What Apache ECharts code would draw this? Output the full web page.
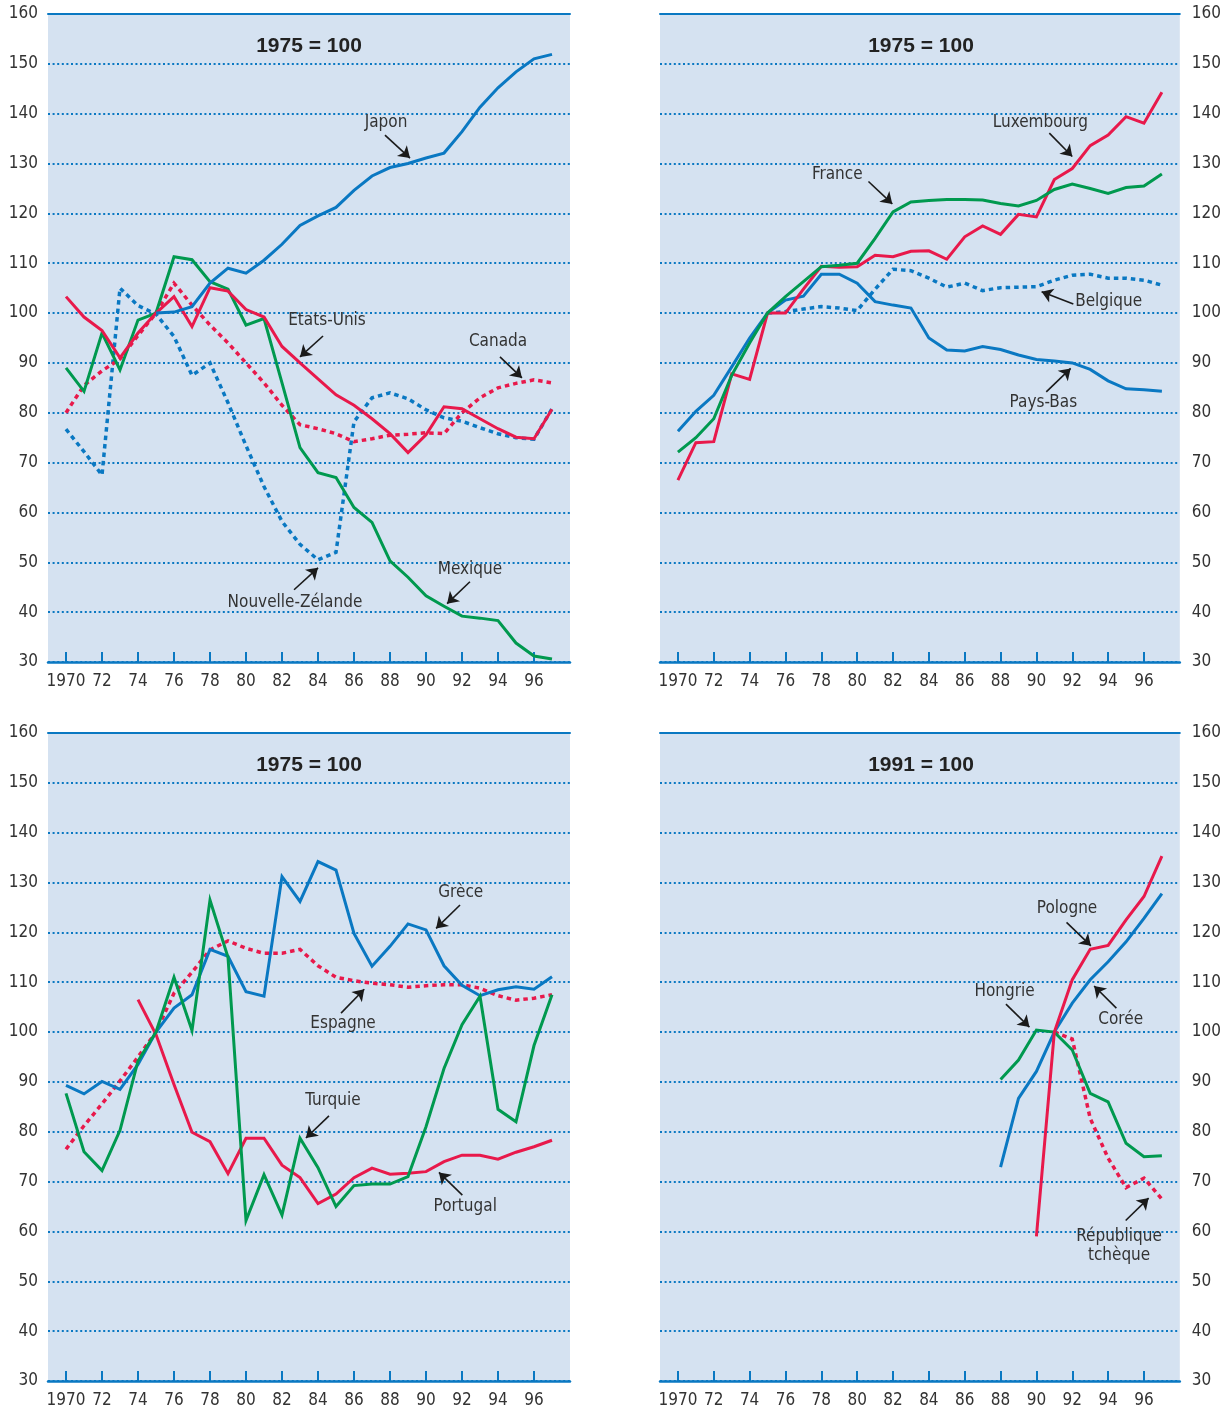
<!DOCTYPE html>
<html><head><meta charset="utf-8">
<script src="https://cdn.jsdelivr.net/npm/echarts@6/dist/echarts.min.js"></script>
<style>html,body{margin:0;padding:0;background:#fff}#c{width:1224px;height:1409px}</style>
</head><body><div id="c"></div><script>
// ---------- DATA ----------
const years = [1970,1971,1972,1973,1974,1975,1976,1977,1978,1979,1980,1981,1982,1983,1984,1985,1986,1987,1988,1989,1990,1991,1992,1993,1994,1995,1996,1997];
const yTicks = [30,40,50,60,70,80,90,100,110,120,130,140,150,160];
const xTicks = [1970,1972,1974,1976,1978,1980,1982,1984,1986,1988,1990,1992,1994,1996];
const panelTitles = ['1975 = 100','1975 = 100','1975 = 100','1991 = 100'];
const _ = null;
// Panel 1
const japon     = [_,_,_,_,_,100,100.2,101.3,106,109,108,110.6,113.8,117.6,119.5,121.2,124.6,127.5,129.2,130,131.1,132.1,136.4,141.3,145.2,148.4,151,151.9];
const etatsUnis = [103.3,99.2,96.5,91,96,100,103.3,97.3,105.1,104.4,100.7,99.2,93.3,90,86.8,83.6,81.5,78.8,75.8,72,75.6,81.2,80.8,78.8,76.8,75.1,74.8,80.7];
const canada    = [80,85.5,88.4,90.8,95.5,100,106,101.6,97.6,94,90,86,81.5,77.6,76.8,75.8,74.2,74.8,75.5,75.7,76,75.8,80,83,85,85.9,86.6,86];
const mexique   = [89,84.3,96,88.6,98.6,100,111.3,110.7,106.3,104.8,97.6,98.9,86,73,68,67,61,58,50.3,47,43.3,41.2,39.2,38.8,38.3,33.8,31.2,30.6];
const nouvelleZelande = [76.7,72.2,67.5,105,101.5,99.8,95.3,87.5,90,82,73.4,65.2,58.2,53.6,50.5,52,78.2,83,84,82.8,80.6,79,78.3,77,75.8,75,74.7,80.8];
// Panel 2
const luxembourg = [66.5,74,74.2,87.8,86.7,100,100,104.8,109.4,109.2,109.3,111.6,111.3,112.4,112.5,110.8,115.3,117.5,115.8,119.8,119.3,126.8,129,133.6,135.7,139.4,138.1,144.3];
const france     = [72.1,75,78.8,87.5,94,100,103.3,106.3,109.3,109.6,110,115,120.3,122.3,122.6,122.8,122.8,122.7,122,121.5,122.6,124.8,125.9,125,124,125.2,125.5,127.9];
const paysBas    = [76.3,80.3,83.5,89.2,95,100,102.6,103.4,107.8,107.8,106,102.3,101.6,101,95,92.6,92.4,93.3,92.7,91.6,90.7,90.4,90,88.7,86.4,84.8,84.6,84.3];
const belgique   = [_,_,_,_,_,100,100.3,100.8,101.3,101,100.5,104.8,108.8,108.5,107,105.2,106,104.5,105.1,105.2,105.3,106.6,107.6,107.8,107,107,106.6,105.6];
// Panel 3
const grece    = [89.3,87.6,90.1,88.5,93.5,100,104.8,107.5,116.6,115.2,108.1,107.2,131.2,126.2,134.2,132.5,119.8,113.2,117.2,121.7,120.5,113.3,109.4,107.3,108.5,109.1,108.6,111.1];
const espagne  = [76.5,81.2,85.6,90.2,95,100,107.8,112,116.5,118.3,116.8,115.8,115.8,116.6,113.3,111,110.3,109.8,109.5,109,109.3,109.5,109.5,108.8,107.3,106.4,106.8,107.5];
const turquie  = [87.7,76,72.2,80.3,94.2,100,111,100.3,126.5,115,62.2,71.4,63.3,78.7,72.8,65,69.2,69.5,69.5,71,81,92.7,101.5,107.2,84.5,82,97.3,107.5];
const portugal = [_,_,_,_,106.5,99.5,89.5,79.9,78,71.6,78.7,78.7,73.3,70.8,65.6,67.5,70.8,72.7,71.5,71.7,72,74,75.3,75.3,74.5,75.9,77,78.3];
// Panel 4
const pologne  = [_,_,_,_,_,_,_,_,_,_,_,_,_,_,_,_,_,_,_,_,59,100,110.5,116.6,117.4,122.5,127.2,135.3];
const coree    = [_,_,_,_,_,_,_,_,_,_,_,_,_,_,_,_,_,_,72.9,86.7,92.1,100,105.8,110.5,114.1,118.1,122.8,127.8];
const hongrie  = [_,_,_,_,_,_,_,_,_,_,_,_,_,_,_,_,_,_,90.5,94.4,100.4,100,96.4,87.7,86,77.7,75,75.2];
const tcheque  = [_,_,_,_,_,_,_,_,_,_,_,_,_,_,_,_,_,_,_,_,_,100,98.6,82.7,74.7,68.8,70.7,66.5];

// ---------- ANNOTATIONS (label anchor + arrow, in data units) ----------
const annotations = [
  [ {text:'Japon', at:[1987.78,138.3], from:[1987.72,135.7], to:[1989.11,131.1]},
    {text:'Etats-Unis', at:[1984.5,98.4], from:[1984.28,95.4], to:[1983.0,91.2]},
    {text:'Canada', at:[1994.0,94.2], from:[1994.11,91.2], to:[1995.33,87.0]},
    {text:'Nouvelle-Zélande', at:[1982.72,42.0], from:[1982.67,44.5], to:[1984.0,48.9]},
    {text:'Mexique', at:[1992.44,48.5], from:[1992.44,46.1], to:[1991.17,41.7]} ],
  [ {text:'Luxembourg', at:[1990.22,138.3], from:[1990.72,136.1], to:[1992.0,131.4]},
    {text:'France', at:[1978.89,127.7], from:[1980.63,126.4], to:[1981.96,121.9]},
    {text:'Belgique', at:[1994.03,102.3], from:[1992.06,101.8], to:[1990.29,104.3]},
    {text:'Pays-Bas', at:[1990.39,82.1], from:[1990.55,84.2], to:[1991.91,88.9]} ],
  [ {text:'Grèce', at:[1991.93,128.0], from:[1991.89,125.5], to:[1990.56,120.8]},
    {text:'Espagne', at:[1985.39,101.8], from:[1985.28,103.8], to:[1986.57,108.6]},
    {text:'Turquie', at:[1984.83,86.2], from:[1984.61,83.2], to:[1983.33,78.75]},
    {text:'Portugal', at:[1992.18,65.0], from:[1992.02,67.3], to:[1990.72,71.85]} ],
  [ {text:'Pologne', at:[1991.71,124.8], from:[1991.68,122.0], to:[1993.04,117.3]},
    {text:'Hongrie', at:[1988.22,108.1], from:[1988.3,105.6], to:[1989.61,101.0]},
    {text:'Corée', at:[1994.7,102.6], from:[1994.46,104.8], to:[1993.22,109.25]},
    {text:'République\ntchèque', at:[1994.61,57.0], from:[1994.98,62.2], to:[1996.26,66.7]} ]
];

// ---------- STYLE ----------
const BLUE = '#0a78c2', RED = '#e8194b', GREEN = '#00994f';
const BG = '#d5e2f1', TXT = '#333333';
const FONT = "'Liberation Sans Narrow','DejaVu Sans Condensed','Roboto Condensed','Liberation Sans',sans-serif";
const DOT = [4.5, 4];

const panels = [
  { left:48,  top:14,  side:'left',  series:[
      {name:'Nouvelle-Zélande', d:nouvelleZelande, c:BLUE, dotted:true},
      {name:'Canada', d:canada, c:RED, dotted:true},
      {name:'Mexique', d:mexique, c:GREEN},
      {name:'Etats-Unis', d:etatsUnis, c:RED},
      {name:'Japon', d:japon, c:BLUE} ]},
  { left:660, top:14,  side:'right', series:[
      {name:'Belgique', d:belgique, c:BLUE, dotted:true},
      {name:'Pays-Bas', d:paysBas, c:BLUE},
      {name:'Luxembourg', d:luxembourg, c:RED},
      {name:'France', d:france, c:GREEN} ]},
  { left:48,  top:733, side:'left',  series:[
      {name:'Espagne', d:espagne, c:RED, dotted:true},
      {name:'Grèce', d:grece, c:BLUE},
      {name:'Portugal', d:portugal, c:RED},
      {name:'Turquie', d:turquie, c:GREEN} ]},
  { left:660, top:733, side:'right', series:[
      {name:'République tchèque', d:tcheque, c:RED, dotted:true},
      {name:'Hongrie', d:hongrie, c:GREEN},
      {name:'Corée', d:coree, c:BLUE},
      {name:'Pologne', d:pologne, c:RED} ]}
];
const W = 522, H = 648;

const grid = [], xAxis = [], yAxis = [], series = [], graphic = [];
panels.forEach((p, i) => {
  grid.push({left:p.left, top:p.top, width:W, height:H, show:true, backgroundColor:BG, borderWidth:0, containLabel:false});
  yAxis.push({
    type:'value', gridIndex:i, min:yTicks[0], max:yTicks[yTicks.length-1], interval:10, position:p.side,
    axisLine:{show:false}, axisTick:{show:false},
    axisLabel:{show:true, color:TXT, fontSize:17, fontFamily:FONT, margin:p.side==='left'?10:12, padding:[3,0,0,0]},
    splitLine:{show:true, lineStyle:{color:BLUE, width:2, type:[2,2.6]}}
  });
});
panels.forEach((p, i) => {
  xAxis.push({
    type:'value', gridIndex:i, min:1969, max:1998, position:'bottom',
    axisLine:{show:true, onZero:false, lineStyle:{color:BLUE, width:2.5}},
    axisTick:{show:true, inside:true, length:10, lineStyle:{color:BLUE, width:2}, customValues:xTicks},
    axisLabel:{show:true, color:TXT, fontSize:17, fontFamily:FONT, margin:11, customValues:xTicks,
      formatter:v => v === 1970 ? '1970' : String(v).slice(2)},
    splitLine:{show:false}
  });
});
panels.forEach((p, i) => {
  xAxis.push({
    type:'value', gridIndex:i, min:1969, max:1998, position:'top',
    axisLine:{show:true, onZero:false, lineStyle:{color:BLUE, width:2}},
    axisTick:{show:false}, axisLabel:{show:false}, splitLine:{show:false}
  });
});

panels.forEach((p, i) => {
  p.series.forEach((s, k) => {
    const data = years.map((y, j) => [y, s.d[j]]).filter(pt => pt[1] !== null);
    const ser = {
      name:s.name, type:'line', xAxisIndex:i, yAxisIndex:i, data,
      symbol:'none', showSymbol:false, animation:false, silent:true,
      lineStyle:{color:s.c, width:s.dotted ? 3.5 : 3, type:s.dotted ? DOT : 'solid', join:'miter', cap:'butt'},
      z: 3 + k
    };
    if (k === 0) {
      const ann = annotations[i];
      ser.markLine = {
        silent:true, animation:false, symbol:['none','arrow'], symbolSize:11, precision:3,
        label:{show:false},
        lineStyle:{color:'#1a1a1a', width:1.6, type:'solid'},
        itemStyle:{color:'#1a1a1a'},
        emphasis:{disabled:true},
        data: ann.map(a => [{coord:a.from}, {coord:a.to}])
      };
      ser.markPoint = {
        silent:true, animation:false, symbol:'rect', symbolSize:1,
        itemStyle:{color:'rgba(0,0,0,0)'},
        label:{show:true, position:'inside', color:TXT, fontSize:17, fontFamily:FONT, lineHeight:19,
               formatter: prm => prm.name},
        data: ann.map(a => ({name:a.text, coord:a.at}))
      };
    }
    series.push(ser);
  });
  graphic.push({
    type:'text', x:p.left + 261, y:p.top + 32,
    style:{text:panelTitles[i], fill:'#222', font:"bold 21px 'Liberation Sans', Arial, sans-serif",
           textAlign:'center', textVerticalAlign:'middle'}
  });
});

const chart = echarts.init(document.getElementById('c'), null, {renderer:'canvas'});
chart.setOption({animation:false, grid, xAxis, yAxis, series, graphic});
</script></body></html>
